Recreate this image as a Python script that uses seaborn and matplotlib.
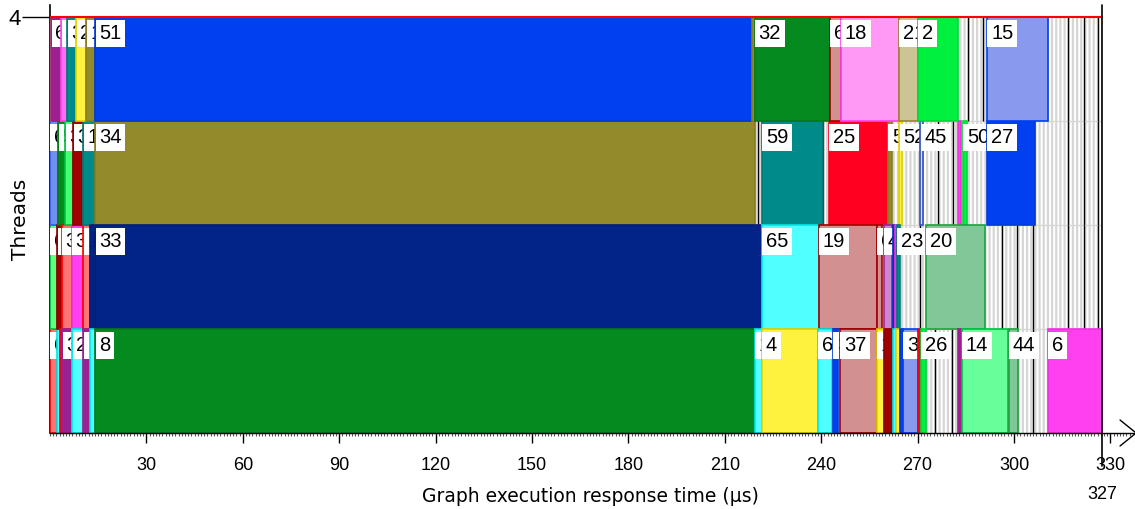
import matplotlib
matplotlib.use("Agg")
import matplotlib.pyplot as plt
import seaborn as sns
from matplotlib.ticker import MultipleLocator

# task colours: (face, edge)
palette = {
    "yel": ("#FFF23F", "#E0D000"),
    "pur": ("#9B2190", "#9B2190"),
    "pnk": ("#FF6EF0", "#FF40F0"),
    "tea": ("#008B8B", "#007878"),
    "oli": ("#938B2A", "#857D20"),
    "blu": ("#0040F0", "#0038D8"),
    "grn": ("#058A20", "#047A1C"),
    "ros": ("#D39090", "#A00000"),
    "lpk": ("#FF99F5", "#FF40F0"),
    "tan": ("#CCC494", "#938B2A"),
    "lim": ("#00F040", "#00D838"),
    "lbl": ("#8899EE", "#0040F0"),
    "lbl2": ("#7090F0", "#3060F0"),
    "lgr": ("#40FF70", "#00C040"),
    "lgr2": ("#60FF80", "#00C040"),
    "dre": ("#A00000", "#900000"),
    "red": ("#FF0020", "#F00018"),
    "bluo": ("#E0E0E0", "#3050C0"),
    "mag": ("#FF40F0", "#F030E0"),
    "sal": ("#FF7575", "#FF0000"),
    "nav": ("#022388", "#021E78"),
    "cya": ("#50FFFF", "#00E8E8"),
    "plm": ("#CC88CC", "#A020A0"),
    "dbl": ("#0030C0", "#0030C0"),
    "sgr": ("#80C898", "#20A040"),
    "mnt": ("#66FF99", "#00C040"),
}

# thread 4 (top row)
t4_start = [0.0, 0.4, 3.5, 5.4, 8.2, 11.3, 14.1, 218.4, 219.3, 242.7, 246.1, 264.2, 270.1, 291.6]
t4_end = [0.4, 3.5, 5.4, 8.2, 11.3, 14.1, 218.4, 219.3, 242.7, 246.1, 264.2, 270.1, 282.6, 310.6]
t4_task = ["yel", "pur", "pnk", "tea", "yel", "oli", "blu", "oli", "grn", "ros", "lpk", "tan", "lim", "lbl"]
t4_label = ["", "6", "4", "3", "2", "1", "51", "", "32", "6", "18", "21", "2", "15"]
t4_idle = [285.8, 290.4, 316.9, 321.9, 326.2]

# thread 3
t3_start = [0.0, 2.6, 4.8, 7.3, 10.4, 14.1, 221.5, 242.4, 260.8, 264.3, 270.8, 282.6, 284.1, 291.6]
t3_end = [2.6, 4.8, 7.3, 10.4, 14.1, 219.3, 240.5, 260.8, 262.0, 265.0, 271.7, 283.5, 285.4, 306.5]
t3_task = ["lbl2", "grn", "lgr", "dre", "tea", "oli", "tea", "red", "oli", "yel", "bluo", "mag", "lim", "blu"]
t3_label = ["6", "5", "3", "3", "1", "34", "59", "25", "5", "52", "45", "", "50", "27"]
t3_idle = [220.3, 240.5, 276.2, 281.0, 316.9, 321.9, 326.2]

# thread 2
t2_start = [0.0, 2.3, 3.6, 6.7, 10.4, 12.5, 14.1, 221.5, 239.3, 257.3, 259.5, 262.3, 262.9, 263.6, 272.6]
t2_end = [2.3, 3.6, 6.7, 10.4, 12.5, 13.7, 221.5, 239.3, 257.3, 258.9, 262.0, 262.9, 263.6, 264.5, 290.9]
t2_task = ["lgr2", "dre", "sal", "mag", "sal", "nav", "nav", "cya", "ros", "ros", "plm", "dbl", "mag", "tea", "sgr"]
t2_label = ["6", "5", "3", "3", "1", "", "33", "65", "19", "6", "4", "", "", "23", "20"]
t2_idle = [270.7, 296.2, 300.9, 305.9, 316.9, 321.9, 326.2]

# thread 1 (bottom row)
t1_start = [0.0, 2.3, 3.2, 3.8, 6.9, 10.4, 12.6, 14.1, 219.3, 221.5, 238.9, 243.6, 245.8,
            257.3, 259.5, 262.3, 263.2, 264.5, 265.4, 270.1, 271.0, 282.6, 283.8, 298.4, 310.6]
t1_end = [2.3, 3.2, 3.8, 6.9, 10.4, 12.6, 14.1, 219.3, 221.5, 238.9, 243.3, 245.2, 257.3,
          259.5, 262.3, 263.2, 264.5, 265.4, 270.1, 271.0, 272.6, 283.8, 298.1, 301.2, 327.4]
t1_task = ["sal", "cya", "red", "pur", "cya", "pur", "cya", "grn", "cya", "yel", "cya", "blu", "ros",
           "yel", "dre", "cya", "yel", "blu", "lbl", "red", "lim", "pur", "mnt", "sgr", "mag"]
t1_label = ["6", "", "", "3", "2", "1", "", "8", "1", "4", "6", "3", "37",
            "1", "", "", "", "", "3", "", "26", "", "14", "44", "6"]
t1_idle = [275.4, 280.7, 305.9, 316.9, 321.9, 326.2]

total_time = 327

rows = [
    (0, t1_start, t1_end, t1_task, t1_label, t1_idle),
    (1, t2_start, t2_end, t2_task, t2_label, t2_idle),
    (2, t3_start, t3_end, t3_task, t3_label, t3_idle),
    (3, t4_start, t4_end, t4_task, t4_label, t4_idle),
]

sns.set_theme(style="white")
plt.rcParams['font.family'] = ['Liberation Sans', 'DejaVu Sans']
plt.rcParams['text.color'] = 'black'
plt.rcParams['axes.labelcolor'] = 'black'
plt.rcParams['xtick.color'] = 'black'
plt.rcParams['ytick.color'] = 'black'
plt.rcParams['hatch.linewidth'] = 1.6

fig = plt.figure(figsize=(11.35, 5.09), dpi=100)
ax = fig.add_axes([50 / 1135, 76 / 509, 1080 / 1135, 428 / 509])
ax.set_xlim(0, 336.1)
ax.set_ylim(0, 4.115)

# idle background (striped)
ax.barh([0, 1, 2, 3], 327.4, left=0, height=1, align='edge', color='white',
        edgecolor='#D6D6D6', hatch='||||', linewidth=0, zorder=1)
ax.hlines([1, 2, 3], 0, 327.4, color='#D8D8D8', lw=1, zorder=1.5)

for row, starts, ends, tasks, labels, idle in rows:
    ax.vlines(idle, row, row + 1, color='black', lw=1, zorder=1.6)
    for i, (s, e, t, lab) in enumerate(zip(starts, ends, tasks, labels)):
        face, edge = palette[t]
        z = 3 + i * 0.01
        ax.barh(row, e - s, left=s, height=1, align='edge', color=face,
                edgecolor=edge, linewidth=1.2, zorder=z)
        if lab:
            ax.annotate(lab, xy=(s, row + 1), xytext=(4, -7), textcoords='offset pixels',
                        ha='left', va='top', fontsize=14.5, color='black',
                        bbox=dict(boxstyle='square,pad=0.18', fc='white', ec='none'),
                        zorder=z + 0.005)

# top red line
ax.plot([0, 327.4], [4, 4], color='red', lw=1.5, zorder=50)

# end marker
ax.plot([327.4, 327.4], [-0.32, 4.115], color='black', lw=1.2, clip_on=False, zorder=60)
ax.text(327.4, -0.59, str(total_time), ha='center', va='center', fontsize=13)

# x axis line with open arrow
ax.plot([0, 338.0], [0, 0], color='black', lw=1, clip_on=False, zorder=60)
ax.plot([333.0, 338.0, 333.0], [0.125, 0, -0.125], color='black', lw=1, clip_on=False, zorder=60)

sns.despine(ax=ax, top=True, right=True, bottom=True)
ax.spines['left'].set_color('black')
ax.spines['left'].set_linewidth(1.2)

ax.set_xticks(range(30, 331, 30))
ax.xaxis.set_minor_locator(MultipleLocator(1))
ax.tick_params(axis='x', which='major', length=7, width=1, pad=10, labelsize=13,
               color='black', bottom=True, direction='out')
ax.tick_params(axis='x', which='minor', length=2, width=0.8, color='#555555', bottom=True)
ax.set_yticks([4])
ax.set_yticklabels(['4'])
ax.tick_params(axis='y', length=20, width=1, pad=1, labelsize=16, color='black', left=True)

ax.set_xlabel('Graph execution response time (µs)', fontsize=13.5, family='DejaVu Sans')
ax.xaxis.set_label_coords(0.5, -0.125)
ax.set_ylabel('Threads', fontsize=14.5, family='DejaVu Sans')
ax.yaxis.set_label_coords(-20 / 1080, 0.5)

fig.savefig('out.png', dpi=100)
